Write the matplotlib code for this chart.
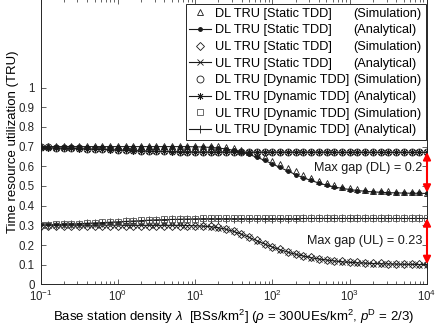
import matplotlib
matplotlib.use("Agg")
import matplotlib.pyplot as plt
from matplotlib.lines import Line2D
import numpy as np

plt.rcParams['font.family'] = ['Liberation Sans', 'DejaVu Sans']
plt.rcParams['font.size'] = 9.2
plt.rcParams['mathtext.fontset'] = 'custom'
plt.rcParams['mathtext.rm'] = 'Liberation Sans'
plt.rcParams['mathtext.it'] = 'Liberation Sans:italic'
plt.rcParams['mathtext.bf'] = 'Liberation Sans:bold'

# x: base station density exponents (10^e BSs/km^2)
log_density = [-1.0, -0.9, -0.8, -0.7, -0.6, -0.5, -0.4, -0.3, -0.2, -0.1,
               0.0, 0.1, 0.2, 0.3, 0.4, 0.5, 0.6, 0.7, 0.8, 0.9,
               1.0, 1.1, 1.2, 1.3, 1.4, 1.5, 1.6, 1.7, 1.8, 1.9,
               2.0, 2.1, 2.2, 2.3, 2.4, 2.5, 2.6, 2.7, 2.8, 2.9,
               3.0, 3.1, 3.2, 3.3, 3.4, 3.5, 3.6, 3.7, 3.8, 3.9, 4.0]

dl_static_sim = [0.705, 0.705, 0.705, 0.705, 0.705, 0.705, 0.705, 0.705, 0.705, 0.705,
                 0.705, 0.705, 0.705, 0.705, 0.705, 0.705, 0.705, 0.705, 0.705, 0.705,
                 0.705, 0.704, 0.704, 0.702, 0.698, 0.692, 0.684, 0.673, 0.660, 0.645,
                 0.628, 0.610, 0.592, 0.574, 0.555, 0.540, 0.526, 0.514, 0.504, 0.496,
                 0.489, 0.484, 0.480, 0.476, 0.474, 0.472, 0.470, 0.469, 0.468, 0.467, 0.466]
dl_static_ana = [0.700, 0.700, 0.700, 0.700, 0.700, 0.700, 0.700, 0.700, 0.700, 0.700,
                 0.700, 0.700, 0.700, 0.700, 0.700, 0.700, 0.700, 0.700, 0.700, 0.700,
                 0.699, 0.698, 0.696, 0.693, 0.688, 0.681, 0.672, 0.660, 0.646, 0.630,
                 0.612, 0.594, 0.576, 0.558, 0.542, 0.528, 0.515, 0.504, 0.495, 0.488,
                 0.482, 0.477, 0.473, 0.470, 0.468, 0.466, 0.465, 0.464, 0.463, 0.463, 0.462]
ul_static_sim = [0.298, 0.298, 0.298, 0.298, 0.298, 0.298, 0.298, 0.298, 0.298, 0.298,
                 0.298, 0.298, 0.298, 0.298, 0.298, 0.298, 0.298, 0.298, 0.298, 0.298,
                 0.298, 0.297, 0.295, 0.290, 0.282, 0.271, 0.257, 0.241, 0.224, 0.207,
                 0.192, 0.178, 0.166, 0.155, 0.146, 0.138, 0.131, 0.126, 0.121, 0.117,
                 0.114, 0.112, 0.110, 0.108, 0.107, 0.106, 0.105, 0.104, 0.104, 0.103, 0.103]
ul_static_ana = [0.300, 0.300, 0.300, 0.300, 0.300, 0.300, 0.300, 0.300, 0.300, 0.300,
                 0.300, 0.300, 0.300, 0.300, 0.300, 0.300, 0.300, 0.300, 0.300, 0.299,
                 0.298, 0.296, 0.293, 0.288, 0.280, 0.269, 0.255, 0.239, 0.222, 0.205,
                 0.190, 0.176, 0.164, 0.153, 0.144, 0.136, 0.129, 0.124, 0.119, 0.115,
                 0.112, 0.110, 0.108, 0.106, 0.105, 0.104, 0.103, 0.102, 0.102, 0.101, 0.101]
dl_dynamic_sim = [0.697, 0.696, 0.695, 0.694, 0.693, 0.692, 0.690, 0.689, 0.688, 0.686,
                  0.685, 0.683, 0.682, 0.680, 0.679, 0.678, 0.677, 0.676, 0.675, 0.675,
                  0.674, 0.674, 0.674, 0.674, 0.674, 0.674, 0.674, 0.673, 0.673, 0.673,
                  0.673, 0.673, 0.673, 0.673, 0.673, 0.673, 0.673, 0.673, 0.673, 0.673,
                  0.672, 0.672, 0.672, 0.672, 0.672, 0.672, 0.672, 0.672, 0.672, 0.672, 0.672]
dl_dynamic_ana = [0.695, 0.694, 0.693, 0.692, 0.691, 0.690, 0.688, 0.687, 0.686, 0.684,
                  0.683, 0.682, 0.680, 0.679, 0.678, 0.677, 0.676, 0.675, 0.674, 0.674,
                  0.673, 0.673, 0.673, 0.673, 0.673, 0.673, 0.672, 0.672, 0.672, 0.672,
                  0.672, 0.672, 0.672, 0.672, 0.672, 0.672, 0.672, 0.672, 0.671, 0.671,
                  0.671, 0.671, 0.671, 0.671, 0.671, 0.671, 0.671, 0.671, 0.671, 0.671, 0.671]
ul_dynamic_sim = [0.303, 0.304, 0.305, 0.306, 0.308, 0.309, 0.311, 0.313, 0.315, 0.317,
                  0.319, 0.321, 0.323, 0.325, 0.327, 0.329, 0.330, 0.331, 0.332, 0.333,
                  0.334, 0.335, 0.335, 0.335, 0.335, 0.335, 0.335, 0.335, 0.335, 0.335,
                  0.335, 0.335, 0.335, 0.335, 0.336, 0.336, 0.336, 0.336, 0.336, 0.336,
                  0.336, 0.336, 0.336, 0.336, 0.336, 0.336, 0.336, 0.336, 0.336, 0.336, 0.336]
ul_dynamic_ana = [0.302, 0.303, 0.304, 0.305, 0.307, 0.308, 0.310, 0.312, 0.314, 0.316,
                  0.318, 0.320, 0.322, 0.324, 0.326, 0.328, 0.329, 0.330, 0.331, 0.332,
                  0.333, 0.334, 0.334, 0.334, 0.334, 0.334, 0.334, 0.334, 0.334, 0.334,
                  0.334, 0.334, 0.334, 0.334, 0.335, 0.335, 0.335, 0.335, 0.335, 0.335,
                  0.335, 0.335, 0.335, 0.335, 0.335, 0.335, 0.335, 0.335, 0.335, 0.335, 0.335]

labels_main = ['DL TRU [Static TDD]', 'DL TRU [Static TDD]', 'UL TRU [Static TDD]',
               'UL TRU [Static TDD]', 'DL TRU [Dynamic TDD]', 'DL TRU [Dynamic TDD]',
               'UL TRU [Dynamic TDD]', 'UL TRU [Dynamic TDD]']
labels_kind = ['(Simulation)', '(Analytical)', '(Simulation)', '(Analytical)',
               '(Simulation)', '(Analytical)', '(Simulation)', '(Analytical)']

yticks = [0, 0.1, 0.2, 0.3, 0.4, 0.5, 0.6, 0.7, 0.8, 0.9, 1]
ytick_labels = ['0', '0.1', '0.2', '0.3', '0.4', '0.5', '0.6', '0.7', '0.8', '0.9', '1']

gap_dl = (0.672, 0.466, '0.2')
gap_ul = (0.336, 0.103, '0.23')

FS_TICK = 8.3
FS_LAB = 9.5
FS_LEG = 9.2
FS_ANN = 9.1
W, H = 436, 327
fig = plt.figure(figsize=(W / 100, H / 100), dpi=100)
left, right, bottom, top = 40.5, 427, 284.4, -1.0
ax = fig.add_axes([left / W, (H - bottom) / H, (right - left) / W, (bottom - top) / H])

x = 10.0 ** np.array(log_density)
ink = '#1a1a1a'
ms = 5.0
mew = 0.6
asterisk = (8, 2, 0)

h1, = ax.plot(x, dl_static_ana, '-', color=ink, lw=0.8, marker='.', ms=5, zorder=3)
h0, = ax.plot(x, dl_static_sim, ls='none', marker='^', mfc='none', mec=ink, ms=ms, mew=mew, zorder=4)
h3, = ax.plot(x, ul_static_ana, '-', color=ink, lw=0.8, marker='x', ms=4.2, mew=0.6, zorder=3)
h2, = ax.plot(x, ul_static_sim, ls='none', marker='D', mfc='none', mec=ink, ms=4.0, mew=mew, zorder=4)
h5, = ax.plot(x, dl_dynamic_ana, '-', color=ink, lw=0.8, marker=asterisk, ms=5, mew=0.6, zorder=3)
h4, = ax.plot(x, dl_dynamic_sim, ls='none', marker='o', mfc='none', mec=ink, ms=ms, mew=mew, zorder=4)
h7, = ax.plot(x, ul_dynamic_ana, '-', color=ink, lw=0.8, marker='+', ms=5.5, mew=0.6, zorder=3)
h6, = ax.plot(x, ul_dynamic_sim, ls='none', marker='s', mfc='none', mec='#555555', ms=4.3, mew=mew, zorder=4)

ax.set_xscale('log')
ax.set_xlim(10 ** log_density[0], 10 ** log_density[-1])
ax.set_ylim(0, 1.45)
ax.set_yticks(yticks)
ax.set_yticklabels(ytick_labels)
ax.tick_params(which='both', direction='in', top=True, right=True, colors='#262626',
               labelsize=FS_TICK, width=0.5)
ax.tick_params(which='major', length=3.5)
ax.tick_params(which='minor', length=2)
ax.tick_params(axis='y', pad=4)
ax.tick_params(axis='x', pad=3.5)
for sp in ax.spines.values():
    sp.set_linewidth(0.7)
    sp.set_color('#262626')

ax.set_ylabel('Time resource utilization (TRU)', fontsize=FS_LAB, labelpad=0)
ax.set_xlabel(r'Base station density $\lambda$  [BSs/km$^2$] ($\rho$ = 300UEs/km$^2$, $p^{\mathrm{D}}$ = 2/3)',
              fontsize=FS_LAB, labelpad=2.5)

# legend: two columns, second column with invisible handles
blank = [Line2D([], [], ls='none', marker=None) for _ in labels_kind]
handles = [h0, h1, h2, h3, h4, h5, h6, h7] + blank
leg = fig.legend(handles, labels_main + labels_kind, ncol=2,
                 loc='upper right', bbox_to_anchor=((425 + 0.5) / W, 1 - 4 / H),
                 bbox_transform=fig.transFigure, borderaxespad=0,
                 fancybox=False, framealpha=1, edgecolor='#262626',
                 fontsize=FS_LEG, handlelength=1.72, handletextpad=0.31,
                 columnspacing=-1.74, labelspacing=0.365, borderpad=0.3)
leg.get_frame().set_linewidth(0.7)

# max gap arrows and text
xr = 10 ** log_density[-1]
for (hi, lo, txt), ytxt, lab in [(gap_dl, 0.59, 'DL'), (gap_ul, 0.218, 'UL')]:
    ax.annotate('', xy=(xr, lo), xytext=(xr, hi),
                arrowprops=dict(arrowstyle='<|-|>', color='red', lw=1.5,
                                mutation_scale=11, shrinkA=0, shrinkB=0),
                annotation_clip=False, zorder=6)
    ax.text(10 ** 3.94, ytxt, f'Max gap ({lab}) = {txt}', ha='right', va='center',
            fontsize=FS_ANN, color=ink, zorder=5)

fig.savefig('out.png', dpi=100)
